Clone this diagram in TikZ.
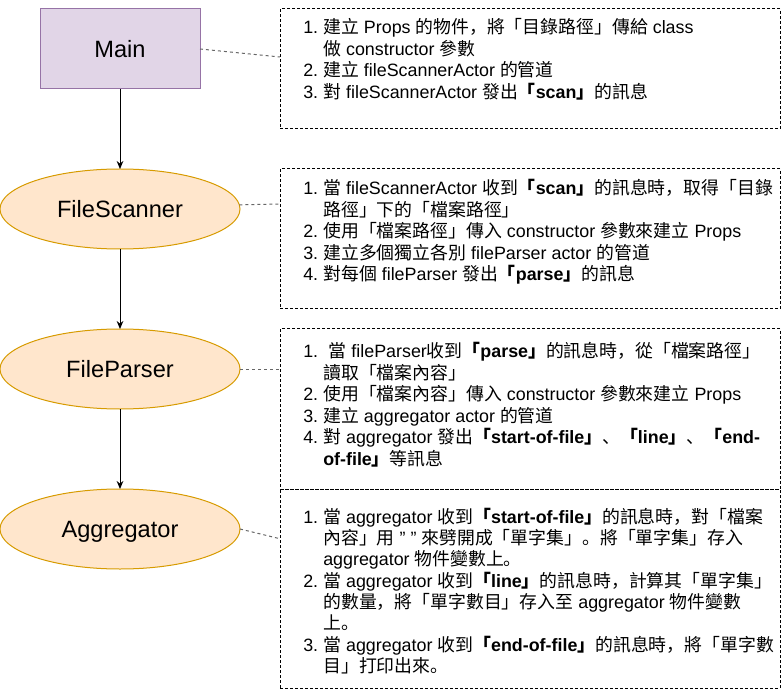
\documentclass[tikz,border=0pt]{standalone}
\usepackage{fontspec}
\setmainfont{Liberation Sans}
\newfontfamily\cjkfont{Noto Sans CJK SC}
\usetikzlibrary{positioning, arrows.meta, shapes.geometric, calc}

\definecolor{mainfill}{HTML}{E1D5E7}
\definecolor{mainline}{HTML}{9673A6}
\definecolor{ovalfill}{HTML}{FFE6CC}
\definecolor{ovalline}{HTML}{D79B00}

% CJK runs and list numbers
\newcommand{\zh}[1]{{\cjkfont #1}}
\newcommand{\itm}[1]{\makebox[15pt][l]{#1}}

\begin{document}
\begin{tikzpicture}[
    % Global Styles (1 unit = 1 px of the reference)
    x=0.75pt, y=-0.75pt,
    font=\fontsize{17.7}{20}\selectfont,
    >={Stealth[length=6pt, width=5pt]},
    % Styles for the actors
    actor_box/.style={rectangle, draw=mainline, fill=mainfill, line width=0.75pt,
        minimum width=120pt, minimum height=60pt, outer sep=0pt,
        text height=12.7pt, text depth=0pt},
    actor_oval/.style={ellipse, draw=ovalline, fill=ovalfill, line width=0.75pt,
        minimum width=180pt, minimum height=60pt, inner sep=0pt, outer sep=0pt,
        text height=12.7pt, text depth=0pt},
    flow/.style={->, line width=0.75pt},
    % Styles for the notes
    note_box/.style={rectangle, draw, line width=0.75pt, dash pattern=on 2.25pt off 1.5pt,
        minimum width=375pt, anchor=north west, outer sep=0pt},
    note_text/.style={anchor=base west, inner sep=0pt, align=left,
        font=\fontsize{13.4}{15.75}\selectfont},
    note_link/.style={draw=black!60, line width=0.75pt, dash pattern=on 2.25pt off 2.25pt}
]
\useasboundingbox (0,0) rectangle (781,691);

%% --- ACTORS ---
\node[actor_box] (main) at (120,49) {Main};
\node[actor_oval] (scanner) at (120,209) {FileScanner};
\node[actor_oval] (parser) at (120,369) {FileParser};
\node[actor_oval] (aggregator) at (120,529) {Aggregator};

\draw[flow] (main) -- (scanner);
\draw[flow] (scanner) -- (parser);
\draw[flow] (parser) -- (aggregator);

%% --- NOTES ---
\node[note_box, minimum height=90pt] (n1) at (280,9) {};
\node[note_box, minimum height=105pt] (n2) at (280,169) {};
\node[note_box, minimum height=120pt] (n3) at (280,329) {};
\node[note_box, minimum height=149.25pt] (n4) at (280,489) {};

% Main
\node[note_text] (t1) at ($(n1.north west)+(23,25)$) {\begin{tabular}[t]{@{}l@{}}
\itm{1.}\zh{建立} Props \zh{的物件，將「目錄路徑」傳給} class\\
\itm{}\zh{做} constructor \zh{參數}\\
\itm{2.}\zh{建立} fileScannerActor \zh{的管道}\\
\itm{3.}\zh{對} fileScannerActor \zh{發出}\textbf{\zh{「}scan\zh{」}}\zh{的訊息}
\end{tabular}};

% FileScanner
\node[note_text] (t2) at ($(n2.north west)+(23,26)$) {\begin{tabular}[t]{@{}l@{}}
\itm{1.}\zh{當} fileScannerActor \zh{收到}\textbf{\zh{「}scan\zh{」}}\zh{的訊息時，取得「目錄}\\
\itm{}\zh{路徑」下的「檔案路徑」}\\
\itm{2.}\zh{使用「檔案路徑」傳入} constructor \zh{參數來建立} Props\\
\itm{3.}\zh{建立多個獨立各別} fileParser actor \zh{的管道}\\
\itm{4.}\zh{對每個} fileParser \zh{發出}\textbf{\zh{「}parse\zh{」}}\zh{的訊息}
\end{tabular}};

% FileParser
\node[note_text] (t3) at ($(n3.north west)+(23,29)$) {\begin{tabular}[t]{@{}l@{}}
\itm{1.}\hspace{4pt}\zh{當} fileParser\zh{收到}\textbf{\zh{「}parse\zh{」}}\zh{的訊息時，從「檔案路徑」}\\
\itm{}\zh{讀取「檔案內容」}\\
\itm{2.}\zh{使用「檔案內容」傳入} constructor \zh{參數來建立} Props\\
\itm{3.}\zh{建立} aggregator actor \zh{的管道}\\
\itm{4.}\zh{對} aggregator \zh{發出}\textbf{\zh{「}start-of-file\zh{」}}\zh{、}\textbf{\zh{「}line\zh{」}}\zh{、}\textbf{\zh{「}end-}\\
\itm{}\textbf{of-file\zh{」}}\zh{等訊息}
\end{tabular}};

% Aggregator
\node[note_text] (t4) at ($(n4.north west)+(23,34)$) {\begin{tabular}[t]{@{}l@{}}
\itm{1.}\zh{當} aggregator \zh{收到}\textbf{\zh{「}start-of-file\zh{」}}\zh{的訊息時，對「檔案}\\
\itm{}\zh{內容」用} \symbol{34} \symbol{34} \zh{來劈開成「單字集」。將「單字集」存入}\\
\itm{}aggregator \zh{物件變數上。}\\
\itm{2.}\zh{當} aggregator \zh{收到}\textbf{\zh{「}line\zh{」}}\zh{的訊息時，計算其「單字集」}\\
\itm{}\zh{的數量，將「單字數目」存入至} aggregator \zh{物件變數}\\
\itm{}\zh{上。}\\
\itm{3.}\zh{當} aggregator \zh{收到}\textbf{\zh{「}end-of-file\zh{」}}\zh{的訊息時，將「單字數}\\
\itm{}\zh{目」打印出來。}
\end{tabular}};

%% --- LINKS TO NOTES ---
\draw[note_link] (main.east) -- ($(n1.north west)!0.4!(n1.south west)$);
\draw[note_link] (scanner.2) -- ($(n2.north west)!0.25!(n2.south west)$);
\draw[note_link] (parser.east) -- ($(n3.north west)!0.25!(n3.south west)$);
\draw[note_link] (aggregator.east) -- ($(n4.north west)!0.25!(n4.south west)$);

\end{tikzpicture}
\end{document}
